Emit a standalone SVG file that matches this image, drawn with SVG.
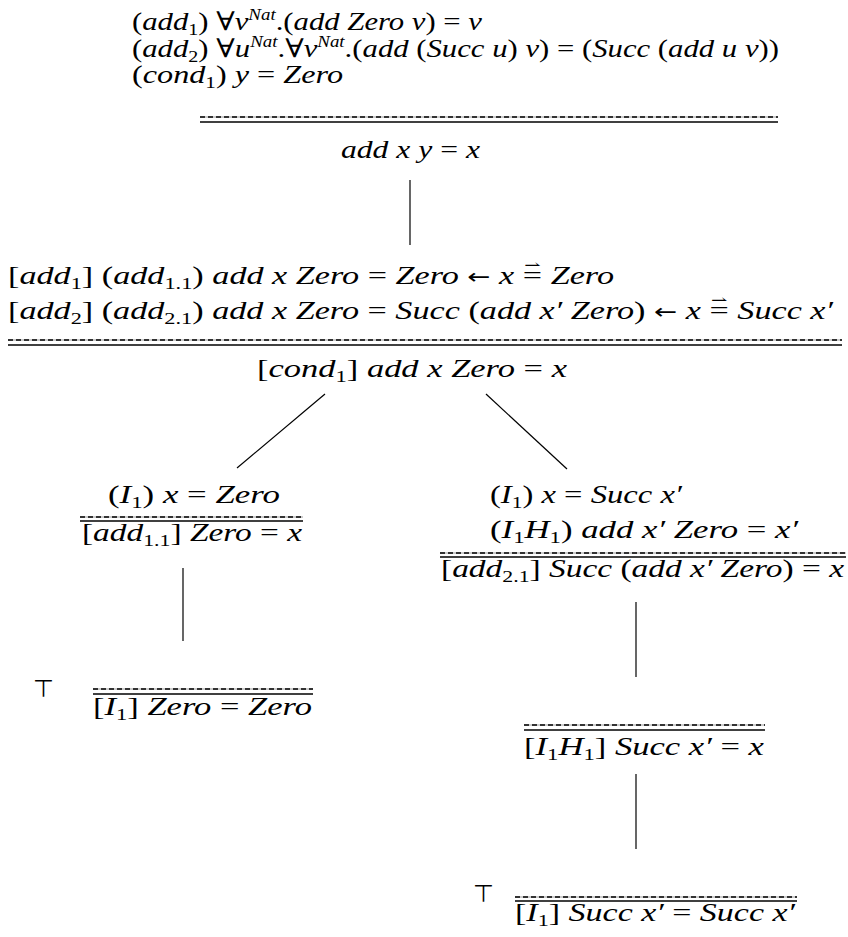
<svg xmlns="http://www.w3.org/2000/svg" width="848" height="937" viewBox="0 0 848 937">
<style>
.t{font-family:"Liberation Serif","DejaVu Serif",serif;font-size:26px;font-style:italic;fill:#000}
.r{font-style:normal}
.sb{font-size:17px;font-style:normal;baseline-shift:-5px}
.sp{font-size:16px;baseline-shift:10px}
.ar{font-family:"DejaVu Sans",sans-serif;font-style:normal;font-size:21px}
.hp{font-family:"DejaVu Serif",serif;font-style:normal;font-size:15px}
.top{font-family:"DejaVu Sans",sans-serif;font-size:24px;fill:#000}
.dg{stroke:#9a9a9a;stroke-width:1}
.dd{stroke:#000;stroke-width:1.3;stroke-dasharray:5 3}
.sl{stroke:#000;stroke-width:1.3}
.cn{stroke:#000;stroke-width:1.2;fill:none}
</style>
<g id="connectors">
<line class="cn" x1="410" y1="180" x2="410" y2="245"/>
<line class="cn" x1="325" y1="394" x2="237" y2="468"/>
<line class="cn" x1="486" y1="394" x2="567" y2="469"/>
<line class="cn" x1="183" y1="568" x2="183" y2="641"/>
<line class="cn" x1="636" y1="602" x2="636" y2="677"/>
<line class="cn" x1="636" y1="774" x2="636" y2="849"/>
</g>
<g id="n1">
<text class="t" x="132" y="30" textLength="350" lengthAdjust="spacingAndGlyphs"><tspan class="r">(</tspan>add<tspan class="sb">1</tspan><tspan class="r">) ∀</tspan>v<tspan class="sp">Nat</tspan><tspan class="r">.(</tspan>add Zero v<tspan class="r">) = </tspan>v</text>
<text class="t" x="132" y="57" textLength="647" lengthAdjust="spacingAndGlyphs"><tspan class="r">(</tspan>add<tspan class="sb">2</tspan><tspan class="r">) ∀</tspan>u<tspan class="sp">Nat</tspan><tspan class="r">.∀</tspan>v<tspan class="sp">Nat</tspan><tspan class="r">.(</tspan>add <tspan class="r">(</tspan>Succ u<tspan class="r">)</tspan> v<tspan class="r">) = (</tspan>Succ <tspan class="r">(</tspan>add u v<tspan class="r">))</tspan></text>
<text class="t" x="132" y="83" textLength="211" lengthAdjust="spacingAndGlyphs"><tspan class="r">(</tspan>cond<tspan class="sb">1</tspan><tspan class="r">) </tspan>y <tspan class="r">=</tspan> Zero</text>
<line class="dg" x1="200" y1="117" x2="778" y2="117"/>
<line class="dd" x1="200" y1="117" x2="778" y2="117"/>
<line class="sl" x1="200" y1="122" x2="778" y2="122"/>
<text class="t" x="341" y="158" textLength="139" lengthAdjust="spacingAndGlyphs">add x y <tspan class="r">=</tspan> x</text>
</g>
<g id="n2">
<text class="t" x="8" y="284" textLength="606" lengthAdjust="spacingAndGlyphs"><tspan class="r">[</tspan>add<tspan class="sb">1</tspan><tspan class="r">] (</tspan>add<tspan class="sb">1.1</tspan><tspan class="r">)</tspan> add x Zero <tspan class="r">=</tspan> Zero <tspan class="ar">←</tspan> x <tspan class="r">=</tspan><tspan class="hp" dx="-13.5" dy="-14">⇀</tspan><tspan dx="1" dy="14"> Zero</tspan></text>
<text class="t" x="8" y="319" textLength="825" lengthAdjust="spacingAndGlyphs"><tspan class="r">[</tspan>add<tspan class="sb">2</tspan><tspan class="r">] (</tspan>add<tspan class="sb">2.1</tspan><tspan class="r">)</tspan> add x Zero <tspan class="r">=</tspan> Succ <tspan class="r">(</tspan>add x′ Zero<tspan class="r">)</tspan> <tspan class="ar">←</tspan> x <tspan class="r">=</tspan><tspan class="hp" dx="-13.5" dy="-14">⇀</tspan><tspan dx="1" dy="14"> Succ x′</tspan></text>
<line class="dg" x1="8" y1="340" x2="842" y2="340"/>
<line class="dd" x1="8" y1="340" x2="842" y2="340"/>
<line class="sl" x1="8" y1="345" x2="842" y2="345"/>
<text class="t" x="257" y="377" textLength="310" lengthAdjust="spacingAndGlyphs"><tspan class="r">[</tspan>cond<tspan class="sb">1</tspan><tspan class="r">]</tspan> add x Zero <tspan class="r">=</tspan> x</text>
</g>
<g id="n3">
<text class="t" x="108" y="503" textLength="172" lengthAdjust="spacingAndGlyphs"><tspan class="r">(</tspan>I<tspan class="sb">1</tspan><tspan class="r">)</tspan> x <tspan class="r">=</tspan> Zero</text>
<line class="dg" x1="80" y1="517" x2="303" y2="517"/>
<line class="dd" x1="80" y1="517" x2="303" y2="517"/>
<line class="sl" x1="80" y1="521" x2="303" y2="521"/>
<text class="t" x="82" y="541" textLength="220" lengthAdjust="spacingAndGlyphs"><tspan class="r">[</tspan>add<tspan class="sb">1.1</tspan><tspan class="r">]</tspan> Zero <tspan class="r">=</tspan> x</text>
</g>
<g id="n4">
<text class="t" x="490" y="503" textLength="192" lengthAdjust="spacingAndGlyphs"><tspan class="r">(</tspan>I<tspan class="sb">1</tspan><tspan class="r">)</tspan> x <tspan class="r">=</tspan> Succ x′</text>
<text class="t" x="490" y="538" textLength="308" lengthAdjust="spacingAndGlyphs"><tspan class="r">(</tspan>I<tspan class="sb">1</tspan>H<tspan class="sb">1</tspan><tspan class="r">)</tspan> add x′ Zero <tspan class="r">=</tspan> x′</text>
<line class="dg" x1="440" y1="553" x2="846" y2="553"/>
<line class="dd" x1="440" y1="553" x2="846" y2="553"/>
<line class="sl" x1="440" y1="557" x2="846" y2="557"/>
<text class="t" x="441" y="577" textLength="403" lengthAdjust="spacingAndGlyphs"><tspan class="r">[</tspan>add<tspan class="sb">2.1</tspan><tspan class="r">]</tspan> Succ <tspan class="r">(</tspan>add x′ Zero<tspan class="r">) =</tspan> x</text>
</g>
<g id="n5">
<text class="top" x="33" y="697">⊤</text>
<line class="dg" x1="93" y1="689" x2="313" y2="689"/>
<line class="dd" x1="93" y1="689" x2="313" y2="689"/>
<line class="sl" x1="93" y1="694" x2="313" y2="694"/>
<text class="t" x="93" y="715" textLength="219" lengthAdjust="spacingAndGlyphs"><tspan class="r">[</tspan>I<tspan class="sb">1</tspan><tspan class="r">]</tspan> Zero <tspan class="r">=</tspan> Zero</text>
</g>
<g id="n6">
<line class="dg" x1="524" y1="725" x2="765" y2="725"/>
<line class="dd" x1="524" y1="725" x2="765" y2="725"/>
<line class="sl" x1="524" y1="730" x2="765" y2="730"/>
<text class="t" x="524" y="755" textLength="240" lengthAdjust="spacingAndGlyphs"><tspan class="r">[</tspan>I<tspan class="sb">1</tspan>H<tspan class="sb">1</tspan><tspan class="r">]</tspan> Succ x′ <tspan class="r">=</tspan> x</text>
</g>
<g id="n7">
<text class="top" x="473" y="902">⊤</text>
<line class="dg" x1="515" y1="897" x2="797" y2="897"/>
<line class="dd" x1="515" y1="897" x2="797" y2="897"/>
<line class="sl" x1="515" y1="901" x2="797" y2="901"/>
<text class="t" x="515" y="921" textLength="280" lengthAdjust="spacingAndGlyphs"><tspan class="r">[</tspan>I<tspan class="sb">1</tspan><tspan class="r">]</tspan> Succ x′ <tspan class="r">=</tspan> Succ x′</text>
</g>
</svg>
